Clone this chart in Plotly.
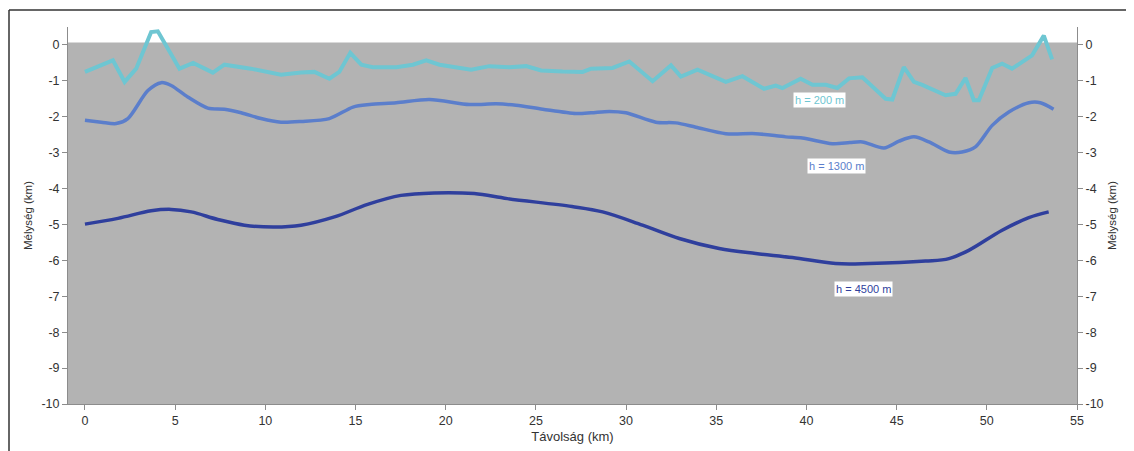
import plotly.graph_objects as go

# h = 200 m
x200 = [0, 1.55, 2.2, 2.84, 3.67, 4.04, 5.24, 6.0, 7.09, 7.73, 9.2, 10.87, 11.98, 12.72, 13.55,
        14.1, 14.71, 15.32, 15.96, 17.26, 18.18, 18.92, 19.66, 20.58, 21.41, 22.42, 23.53, 24.46,
        25.29, 26.49, 27.59, 28.06, 29.25, 30.18, 31.47, 32.49, 33.04, 33.96, 35.53, 36.45, 37.65,
        38.3, 38.67, 39.68, 40.33, 41.07, 41.71, 42.36, 43.1, 44.39, 44.76, 45.4, 45.96, 46.42,
        47.71, 48.27, 48.82, 49.28, 49.56, 50.3, 50.85, 51.4, 52.51, 53.16, 53.62]
y200 = [-0.75, -0.43, -1.03, -0.66, 0.36, 0.38, -0.66, -0.5, -0.77, -0.55, -0.66, -0.83, -0.77, -0.75, -0.94,
        -0.75, -0.22, -0.55, -0.62, -0.62, -0.55, -0.43, -0.55, -0.62, -0.69, -0.59, -0.62, -0.59,
        -0.71, -0.74, -0.75, -0.66, -0.64, -0.46, -1.01, -0.57, -0.88, -0.69, -1.03, -0.87, -1.22,
        -1.13, -1.2, -0.94, -1.11, -1.11, -1.2, -0.93, -0.9, -1.5, -1.52, -0.62, -1.03, -1.11,
        -1.4, -1.36, -0.92, -1.54, -1.54, -0.64, -0.52, -0.66, -0.29, 0.26, -0.4]

# h = 1300 m
x1300 = [0, 0.9, 1.73, 2.38, 3.49, 4.23, 4.78, 5.7, 6.81, 7.73, 8.66, 9.76, 10.87, 11.98, 13.55,
         14.86, 15.78, 17.26, 19.1, 21.32, 22.8, 23.9, 25.38, 27.22, 28.06, 29.07, 29.99, 31.65,
         32.76, 33.87, 35.53, 37.19, 38.85, 39.77, 41.43, 42.4, 43.1, 44.3, 45.13, 45.96, 46.79,
         47.9, 48.63, 49.37, 50.3, 51.22, 52.33, 52.97, 53.7]
y1300 = [-2.1, -2.15, -2.19, -2.05, -1.27, -1.05, -1.13, -1.45, -1.76, -1.79, -1.89, -2.05, -2.15, -2.13, -2.05,
         -1.73, -1.66, -1.61, -1.52, -1.66, -1.64, -1.68, -1.79, -1.91, -1.89, -1.85, -1.89, -2.15,
         -2.17, -2.29, -2.47, -2.47, -2.56, -2.59, -2.75, -2.72, -2.70, -2.87, -2.68, -2.56, -2.70,
         -2.98, -2.98, -2.84, -2.24, -1.87, -1.61, -1.61, -1.79]

# h = 4500 m
x4500 = [0, 1.83, 3.67, 4.78, 5.89, 7.36, 8.84, 10.5, 11.98, 13.83, 15.67, 17.52, 19.36, 21.58, 23.42,
         27.0, 28.7, 30.91, 32.95, 35.16, 37.19, 39.22, 41.62, 43.47, 46.6, 47.9, 49.0, 50.85, 52.33, 53.43]
y4500 = [-4.99, -4.83, -4.62, -4.58, -4.65, -4.86, -5.02, -5.07, -5.02, -4.79, -4.44, -4.19, -4.12, -4.14, -4.28,
         -4.5, -4.65, -5.02, -5.39, -5.67, -5.81, -5.92, -6.09, -6.09, -6.02, -5.95, -5.72, -5.16, -4.81, -4.65]

y_ticks = [0, -1, -2, -3, -4, -5, -6, -7, -8, -9, -10]
y_ticktext = ["0", "-1", "-2", "-3", "-4", "-5", "-6", "-7", "-8", "-9", "-10"]
x_ticks = [0, 5, 10, 15, 20, 25, 30, 35, 40, 45, 50, 55]

labels = ["h = 200 m", "h = 1300 m", "h = 4500 m"]
label_pos = [(40.7, -1.54), (41.67, -3.37), (43.17, -6.79)]

C200 = "#6ec6d2"
C1300 = "#5b7ecb"
C4500 = "#2f3f9d"
FONT = "Liberation Sans, Arial"

fig = go.Figure()
fig.add_trace(go.Scatter(x=x200, y=y200, mode="lines", line=dict(color=C200, width=4), showlegend=False))
fig.add_trace(go.Scatter(x=x1300, y=y1300, mode="lines", line=dict(color=C1300, width=3.5, shape="spline", smoothing=0.8), showlegend=False))
fig.add_trace(go.Scatter(x=x4500, y=y4500, mode="lines", line=dict(color=C4500, width=3.5, shape="spline", smoothing=1), showlegend=False))
fig.add_trace(go.Scatter(x=[None], y=[None], yaxis="y2", showlegend=False))

XR = [-0.94, 55]
YR = [-10, 0.5]

fig.add_shape(type="rect", xref="x", yref="y", x0=XR[0], x1=XR[1], y0=-10, y1=0.07,
              fillcolor="#b3b3b3", line=dict(width=0), layer="below")

for txt, (lx, ly), col in zip(labels, label_pos, [C200, C1300, C4500]):
    fig.add_annotation(x=lx, y=ly, text=txt, showarrow=False, bgcolor="white",
                       font=dict(family=FONT, size=11, color=col), borderpad=1)

# page body adds ~8px offset; plot area is 1009 x 377 px
L, T, PW, PH = 60, 19, 1009, 377
W, H = 1134, 451
ytop = (H - (H - T - PH) - 2) / PH  # line at 2 px from figure top
ytop = (T + PH - 2) / PH
xleft = (1 - L) / PW
fig.add_shape(type="line", xref="paper", yref="paper", x0=xleft, x1=1.2, y0=ytop, y1=ytop,
              line=dict(color="#333333", width=1.5))
fig.add_shape(type="line", xref="paper", yref="paper", x0=xleft, x1=xleft, y0=-0.3, y1=ytop,
              line=dict(color="#333333", width=1.5))

axis_common = dict(showgrid=False, zeroline=False, showline=True, linecolor="#8c8c8c", linewidth=1,
                   ticks="outside", ticklen=5, tickcolor="#8c8c8c", automargin=False,
                   tickfont=dict(family=FONT, size=12.5, color="#333333"))

fig.update_layout(
    width=W, height=H,
    margin=dict(l=L, r=W - L - PW, t=T, b=H - T - PH),
    paper_bgcolor="white", plot_bgcolor="white",
    xaxis=dict(range=XR, tickvals=x_ticks, title=dict(text="Távolság (km)", standoff=4,
               font=dict(family=FONT, size=13, color="#333333")), **axis_common),
    yaxis=dict(range=YR, tickvals=y_ticks, ticktext=y_ticktext,
               title=dict(text="Mélység (km)", standoff=6, font=dict(family=FONT, size=11.5, color="#333333")),
               **axis_common),
    yaxis2=dict(range=YR, tickvals=y_ticks, ticktext=y_ticktext, overlaying="y", side="right",
                title=dict(text="Mélység (km)", standoff=5, font=dict(family=FONT, size=11.5, color="#333333")),
                **axis_common),
)

fig.write_html("out.html")
